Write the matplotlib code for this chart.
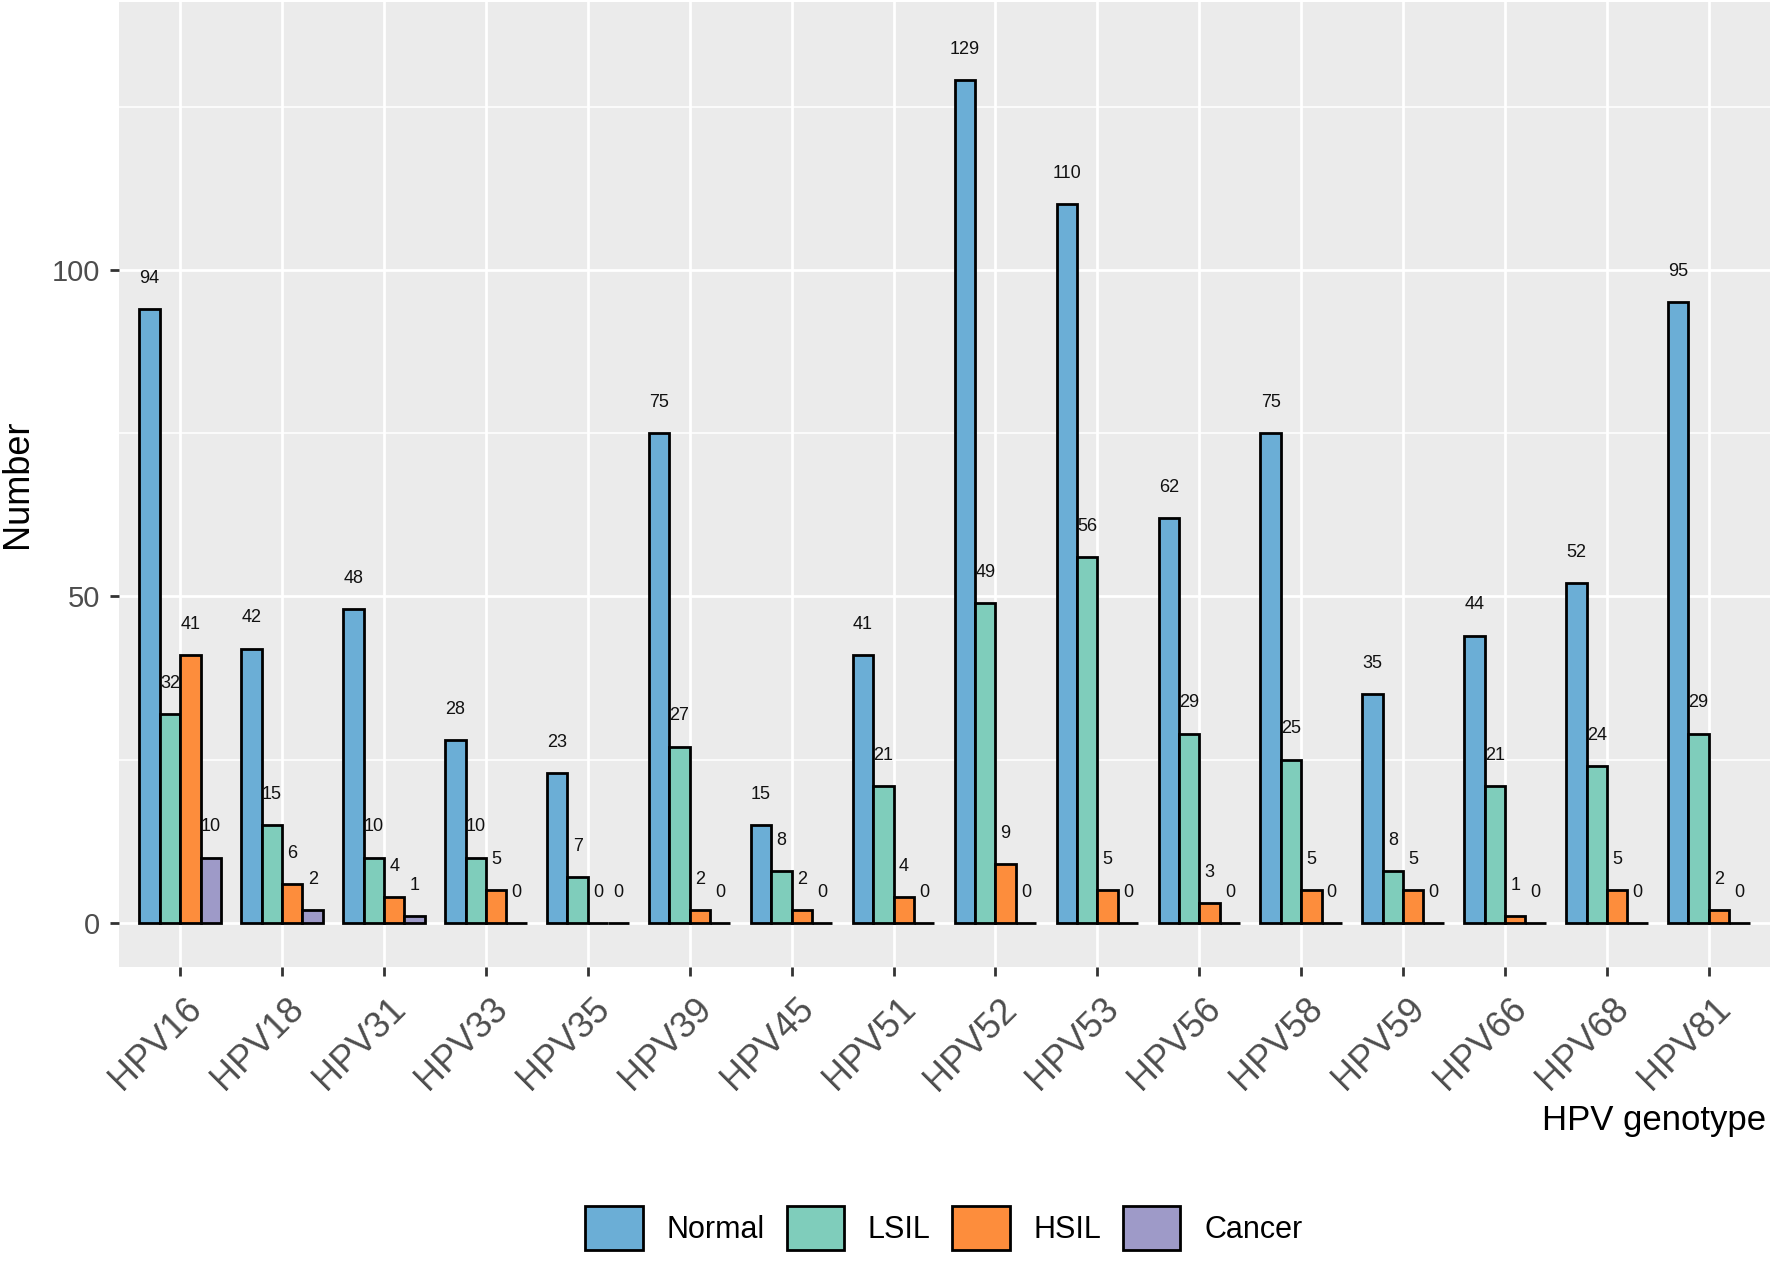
import numpy as np
import matplotlib.pyplot as plt
import matplotlib.transforms as mtransforms
from matplotlib.ticker import MultipleLocator

plt.rcParams['font.family'] = ['Liberation Sans', 'DejaVu Sans']

genotypes = ['HPV16', 'HPV18', 'HPV31', 'HPV33', 'HPV35', 'HPV39', 'HPV45', 'HPV51',
             'HPV52', 'HPV53', 'HPV56', 'HPV58', 'HPV59', 'HPV66', 'HPV68', 'HPV81']
normal = [94, 42, 48, 28, 23, 75, 15, 41, 129, 110, 62, 75, 35, 44, 52, 95]
lsil = [32, 15, 10, 10, 7, 27, 8, 21, 49, 56, 29, 25, 8, 21, 24, 29]
hsil = [41, 6, 4, 5, 0, 2, 2, 4, 9, 5, 3, 5, 5, 1, 5, 2]
cancer = [10, 2, 1, 0, 0, 0, 0, 0, 0, 0, 0, 0, 0, 0, 0, 0]

groups = ['Normal', 'LSIL', 'HSIL', 'Cancer']
series = [normal, lsil, hsil, cancer]
colors = ['#6BAED6', '#7FCDBB', '#FD8D3C', '#9E9AC8']

W, H = 1772, 1262
fig = plt.figure(figsize=(W / 100, H / 100), dpi=100)
ax = fig.add_axes([119 / W, 1 - 967 / H, (1770 - 119) / W, (967 - 2) / H])
ax.set_facecolor('#EBEBEB')
for s in ax.spines.values():
    s.set_visible(False)

x = np.arange(len(genotypes))
bw = 0.2
for k, (name, vals, col) in enumerate(zip(groups, series, colors)):
    xs = x + (k - 1.5) * bw
    ax.bar(xs, vals, width=bw, color=col, edgecolor='black', linewidth=2.0,
           label=name, zorder=3)
    for xi, v in zip(xs, vals):
        ax.text(xi, v + 4.7, str(v), ha='center', va='center', fontsize=13,
                color='#111111', zorder=4)

ax.set_xlim(-0.6, len(genotypes) - 0.4)
ax.set_ylim(-6.74, 141.0)
ax.yaxis.set_major_locator(MultipleLocator(50))
ax.yaxis.set_minor_locator(MultipleLocator(25))
ax.set_xticks(x)
ax.set_xticklabels(genotypes, rotation=45, ha='right', va='top', rotation_mode='anchor')
ax.grid(which='major', color='white', linewidth=2.0, zorder=0)
ax.grid(which='minor', axis='y', color='white', linewidth=1.1, zorder=0)
ax.set_axisbelow(True)
ax.tick_params(axis='both', which='major', length=6.5, width=2, color='#333333',
               labelcolor='#4D4D4D')
ax.tick_params(axis='y', labelsize=21, pad=7)
ax.tick_params(axis='x', labelsize=26, pad=11)
ax.tick_params(axis='y', which='minor', length=0)
shift = mtransforms.ScaledTranslation(4 / 100, 0, fig.dpi_scale_trans)
for lab in ax.get_xticklabels():
    lab.set_transform(lab.get_transform() + shift)

fig.text(18 / W, 1 - 484 / H, 'Number', rotation=90, ha='center', va='center',
         fontsize=26, color='black')
fig.text(1766 / W, 1 - 1130 / H, 'HPV genotype', ha='right', va='baseline',
         fontsize=25, color='black')

fig.legend(loc='center', bbox_to_anchor=(944 / W, 1 - 1228 / H), ncol=4,
           frameon=False, fontsize=22, handlelength=1.87, handleheight=1.87,
           handletextpad=0.78, columnspacing=0.72)

fig.savefig('out.png', dpi=100)
